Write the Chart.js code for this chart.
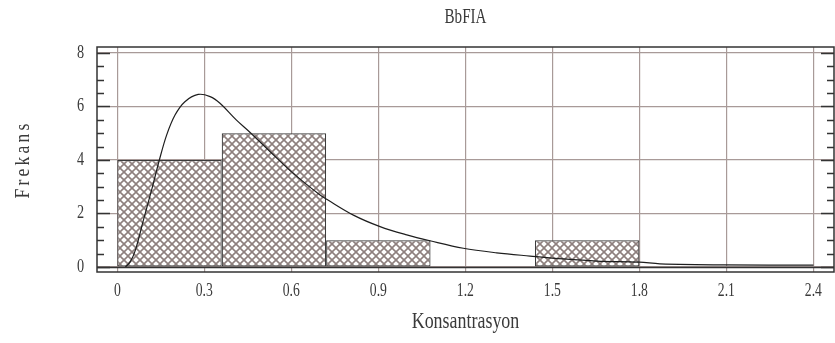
<!DOCTYPE html>
<html>
<head>
<meta charset="utf-8">
<script src="https://cdn.jsdelivr.net/npm/chart.js@4.4.1/dist/chart.umd.min.js"></script>
<style>
  html, body { margin: 0; padding: 0; background: #fff; }
  #wrap { width: 835px; height: 343px; }
</style>
</head>
<body>
<div id="wrap"><canvas id="c"></canvas></div>
<script>
// Labels
const chartTitle = 'BbFIA';
const xTitle = 'Konsantrasyon';
const yTitle = 'Frekans';

// Histogram bins (edges) and counts
const binEdges = [0, 0.36, 0.72, 1.08, 1.44, 1.80];
const binCounts = [4, 5, 1, 0, 1];

// Fitted density curve, scaled to frequency
const curveX = [0.028, 0.045, 0.063, 0.09, 0.12, 0.145, 0.17, 0.199, 0.233, 0.279, 0.32, 0.354,
                0.41, 0.458, 0.527, 0.607, 0.699, 0.722, 0.814, 0.906, 0.998, 1.078,
                1.193, 1.308, 1.423, 1.538, 1.653, 1.80, 1.871, 2.09, 2.40];
const curveY = [0.0, 0.2, 0.65, 1.75, 2.95, 4.0, 4.93, 5.68, 6.18, 6.45, 6.37, 6.12,
                5.5, 5.03, 4.31, 3.5, 2.69, 2.53, 1.94, 1.51, 1.2, 0.98,
                0.7, 0.53, 0.41, 0.3, 0.22, 0.18, 0.12, 0.08, 0.07];

// Axis ticks
const xTicks = [0, 0.3, 0.6, 0.9, 1.2, 1.5, 1.8, 2.1, 2.4];
const xTickLabels = ['0', '0.3', '0.6', '0.9', '1.2', '1.5', '1.8', '2.1', '2.4'];
const yTicks = [0, 2, 4, 6, 8];
const yTickLabels = ['0', '2', '4', '6', '8'];
const yMinorTicks = [0.5, 1, 1.5, 2.5, 3, 3.5, 4.5, 5, 5.5, 6.5, 7, 7.5];

const FONT = "'Liberation Serif', 'DejaVu Serif', serif";
const TEXT = '#3a3a3a';
const GRID = '#a89a98';
const INK = '#333333';

// Cross-hatch fill for the bars
function crossHatch() {
  const s = 8;
  const c = document.createElement('canvas');
  c.width = s; c.height = s;
  const g = c.getContext('2d');
  g.fillStyle = '#ffffff';
  g.fillRect(0, 0, s, s);
  g.strokeStyle = '#8e807e';
  g.lineWidth = 1.6;
  for (const k of [-s, 0, s]) {
    g.beginPath(); g.moveTo(k, 0); g.lineTo(k + s, s); g.stroke();
    g.beginPath(); g.moveTo(k + s, 0); g.lineTo(k, s); g.stroke();
  }
  return g.createPattern(c, 'repeat');
}

const barData = binCounts.map((v, i) => ({ x: (binEdges[i] + binEdges[i + 1]) / 2, y: v }));
const curveData = curveX.map((x, i) => ({ x, y: curveY[i] }));
// Bars span one bin; the library sizes bars against the tick step
const binFraction = (binEdges[1] - binEdges[0]) / (xTicks[1] - xTicks[0]);

// Horizontally condensed serif text
function txt(ctx, s, x, y, o) {
  ctx.save();
  ctx.translate(x, y);
  if (o.rot) ctx.rotate(o.rot);
  ctx.scale(o.sx || 1, 1);
  ctx.font = o.size + 'px ' + FONT;
  ctx.fillStyle = TEXT;
  ctx.textAlign = o.align || 'center';
  ctx.textBaseline = 'middle';
  if (o.spacing) ctx.letterSpacing = o.spacing + 'px';
  ctx.fillText(s, 0, 0);
  ctx.restore();
}

const decor = {
  id: 'decor',
  afterDatasetsDraw(chart) {
    const { ctx, chartArea: a, scales: { y } } = chart;
    const y0 = Math.round(y.getPixelForValue(0)) + 0.5;
    ctx.save();
    ctx.strokeStyle = INK;
    ctx.lineWidth = 1.3;
    ctx.beginPath(); ctx.moveTo(a.left, y0); ctx.lineTo(a.right, y0); ctx.stroke();
    ctx.restore();
  },
  afterDraw(chart) {
    const { ctx, chartArea: a, scales: { x, y } } = chart;
    ctx.save();
    ctx.strokeStyle = INK;
    ctx.lineWidth = 1.3;
    const tick = (v, len) => {
      const p = Math.round(y.getPixelForValue(v)) + 0.5;
      ctx.beginPath();
      ctx.moveTo(a.left, p); ctx.lineTo(a.left + len, p);
      ctx.moveTo(a.right, p); ctx.lineTo(a.right - len, p);
      ctx.stroke();
    };
    yTicks.forEach(v => tick(v, 13));
    yMinorTicks.forEach(v => tick(v, 7));
    ctx.lineWidth = 1.5;
    ctx.strokeRect(a.left, a.top, a.right - a.left, a.bottom - a.top);
    ctx.restore();

    xTicks.forEach((v, i) => txt(ctx, xTickLabels[i], x.getPixelForValue(v), a.bottom + 19, { size: 19, sx: 0.72 }));
    yTicks.forEach((v, i) => txt(ctx, yTickLabels[i], a.left - 13, y.getPixelForValue(v), { size: 19, sx: 0.75, align: 'right' }));

    txt(ctx, chartTitle, (a.left + a.right) / 2, 17, { size: 21, sx: 0.72 });
    txt(ctx, xTitle, (a.left + a.right) / 2, 322, { size: 23, sx: 0.78 });
    txt(ctx, yTitle, 23, (a.top + a.bottom) / 2, { size: 22, sx: 0.8, rot: -Math.PI / 2, spacing: 4 });
  }
};

new Chart(document.getElementById('c'), {
  data: {
    datasets: [
      {
        type: 'line',
        data: curveData,
        borderColor: '#1e1e1e',
        borderWidth: 1.2,
        pointRadius: 0,
        tension: 0.35,
        fill: false,
        order: 0
      },
      {
        type: 'bar',
        data: barData,
        backgroundColor: crossHatch(),
        borderColor: '#3c3c3c',
        borderWidth: 1.2,
        borderSkipped: false,
        barPercentage: 1,
        categoryPercentage: binFraction,
        order: 1
      }
    ]
  },
  options: {
    responsive: true,
    maintainAspectRatio: false,
    animation: false,
    devicePixelRatio: 1,
    layout: { padding: { top: 47, right: 1, left: 0, bottom: 0 } },
    plugins: { legend: { display: false }, tooltip: { enabled: false }, title: { display: false } },
    scales: {
      x: {
        type: 'linear',
        offset: false,
        min: -0.07,
        max: 2.471,
        afterBuildTicks: s => { s.ticks = xTicks.map(v => ({ value: v })); },
        afterFit: s => { s.height = 71; },
        ticks: { display: false },
        grid: { color: GRID, lineWidth: 1.2, drawTicks: false, offset: false },
        border: { display: false }
      },
      y: {
        type: 'linear',
        min: -0.187,
        max: 8.224,
        afterBuildTicks: s => { s.ticks = yTicks.map(v => ({ value: v })); },
        afterFit: s => { s.width = 97; },
        ticks: { display: false },
        grid: { color: GRID, lineWidth: 1.2, drawTicks: false },
        border: { display: false }
      }
    }
  },
  plugins: [decor]
});
</script>
</body>
</html>
